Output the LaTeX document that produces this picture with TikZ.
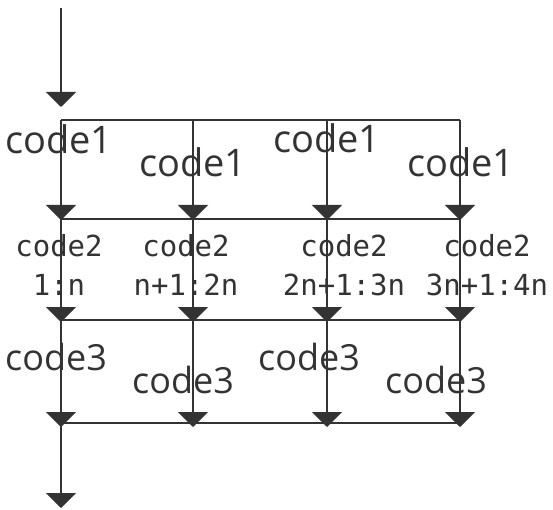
\documentclass[tikz,border=0pt]{standalone}
\usepackage{fontspec}
\setmainfont{Open Sans}
\setmonofont{DejaVu Sans Mono}
\usepackage{xcolor}
\usetikzlibrary{arrows.meta}

\definecolor{ink}{HTML}{333333}

\begin{document}
\begin{tikzpicture}[
    x=1pt, y=-1pt,
    flow/.style={draw=ink, line width=2pt, -{Triangle[width=30pt, length=15pt]}},
    bar/.style={draw=ink, line width=2pt},
    bigcode/.style={text=ink, anchor=base, inner sep=0pt,
        font=\fontsize{38}{40}\selectfont},
    midcode/.style={text=ink, anchor=base, inner sep=0pt,
        font=\fontsize{36}{40}\selectfont},
    slicecode/.style={text=ink, anchor=base, inner sep=0pt, align=center,
        font=\ttfamily\fontsize{29}{39}\selectfont},
]
\useasboundingbox (0,0) rectangle (553,510);

% Punti
\coordinate (in)  at (61,8);
\coordinate (top) at (61,107);
\coordinate (a0) at (61,120);  \coordinate (a3) at (460,120);
\coordinate (b0) at (61,219);  \coordinate (b3) at (460,219);
\coordinate (c0) at (61,320);  \coordinate (c3) at (460,320);
\coordinate (d0) at (61,423);  \coordinate (d3) at (460,423);
\coordinate (out) at (61,508);

\coordinate (a1) at (193,120); \coordinate (a2) at (327,120);
\coordinate (b1) at (193,219); \coordinate (b2) at (327,219);
\coordinate (c1) at (193,320); \coordinate (c2) at (327,320);
\coordinate (d1) at (193,423); \coordinate (d2) at (327,423);

% Ingresso
\draw[flow] (in) -- (top);

% Barre
\draw[bar] (a0) -- (a3);
\draw[bar] (b0) -- (b3);
\draw[bar] (c0) -- (c3);
\draw[bar] (d0) -- (d3);

% Frecce
\foreach \i in {0,1,2,3} {
    \draw[flow] (a\i) -- ([yshift=-1pt]b\i);
    \draw[flow] (b\i) -- ([yshift=-2pt]c\i);
    \draw[flow] (c\i) -- ([yshift=-4pt]d\i);
}

% Uscita
\draw[flow] (d0) -- (out);

% Etichette
\node[bigcode] (code1a) at (59,154)  {code1};
\node[bigcode] (code1b) at (193,177) {code1};
\node[bigcode] (code1c) at (327,153) {code1};
\node[bigcode] (code1d) at (461,177) {code1};

\node[slicecode] (code2a) at (59,295)  {code2\\1:n};
\node[slicecode] (code2b) at (186,295) {code2\\n+1:2n};
\node[slicecode] (code2c) at (344,295) {code2\\2n+1:3n};
\node[slicecode] (code2d) at (487,295) {code2\\3n+1:4n};

\node[midcode] (code3a) at (56,370)  {code3};
\node[midcode] (code3b) at (183,393) {code3};
\node[midcode] (code3c) at (309,370) {code3};
\node[midcode] (code3d) at (436,393) {code3};

\end{tikzpicture}
\end{document}
